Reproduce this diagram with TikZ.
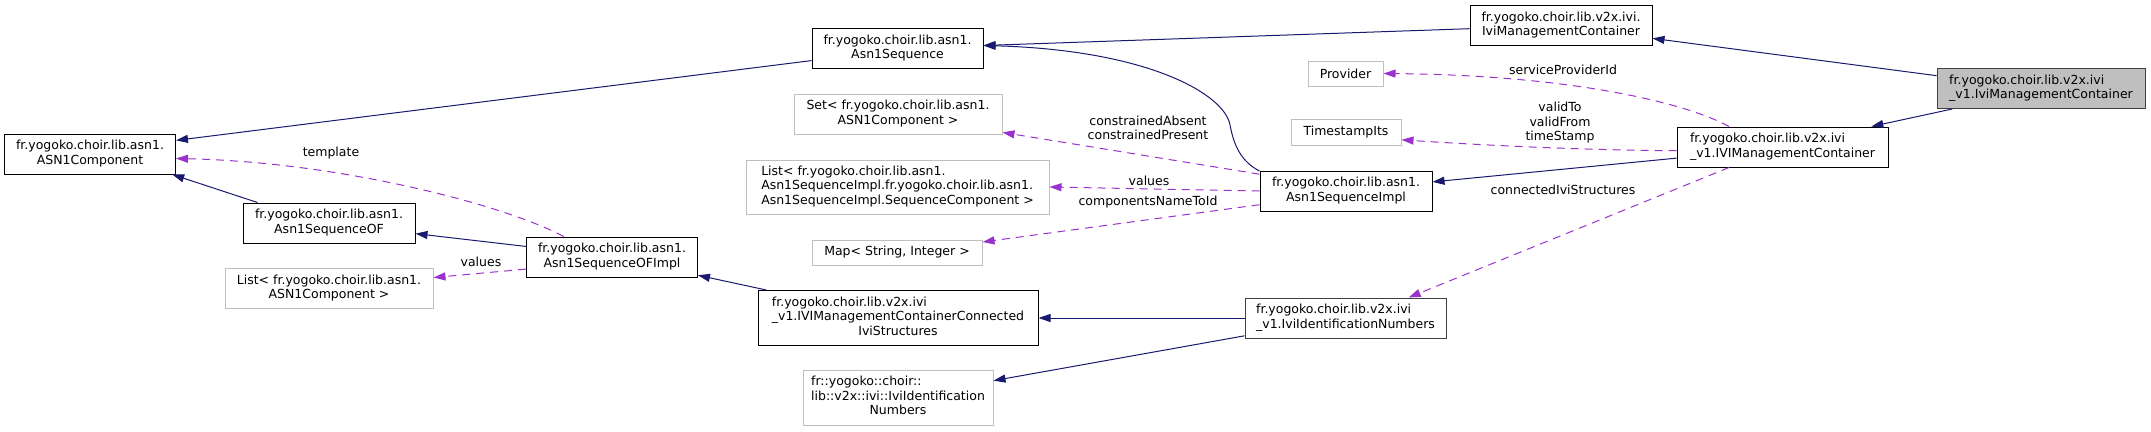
\documentclass[tikz,border=0pt]{standalone}
\usepackage{fontspec}
\setmainfont{DejaVu Sans}
\usetikzlibrary{arrows.meta}
\definecolor{InhBlue}{HTML}{191970}
\definecolor{UseOrchid}{HTML}{9A32CD}
\definecolor{ExtGrey}{HTML}{BFBFBF}
% class name: leading lines left, last line centred
\newcommand{\clsname}[2]{\begin{tabular}{@{}l@{}}#1\\\multicolumn{1}{@{}c@{}}{#2}\end{tabular}}

\begin{document}
\begin{tikzpicture}[x=1pt,y=-1pt,
    every node/.style={font=\fontsize{12.5}{14.5}\selectfont},
    cls/.style={draw=black,fill=white,line width=1pt,inner sep=0pt,minimum height=40pt},
    ext/.style={cls,draw=ExtGrey},
    inh/.style={draw=InhBlue,line width=1pt,-{Triangle[length=12pt,width=8pt]}},
    use/.style={draw=UseOrchid,line width=1pt,dash pattern=on 8pt off 6pt,-{Triangle[length=12pt,width=8pt]}},
    lbl/.style={inner sep=0pt,align=center}]
  \useasboundingbox (0,0) rectangle (2151,431);

  % asn1 classes
  \node[cls,minimum width=171pt] (comp) at (90,154) {\clsname{fr.yogoko.choir.lib.asn1.}{ASN1Component}};
  \node[cls,minimum width=172pt] (seqof) at (329,223) {\clsname{fr.yogoko.choir.lib.asn1.}{Asn1SequenceOF}};
  \node[cls,minimum width=171pt] (seqofimpl) at (612,257) {\clsname{fr.yogoko.choir.lib.asn1.}{Asn1SequenceOFImpl}};
  \node[ext,minimum width=208pt] (lista) at (329,288.5) {\clsname{List< fr.yogoko.choir.lib.asn1.}{ASN1Component >}};
  \node[cls,minimum width=171pt] (seq) at (897.5,48.5) {\clsname{fr.yogoko.choir.lib.asn1.}{Asn1Sequence}};
  \node[ext,minimum width=208pt] (setc) at (898,114) {\clsname{Set< fr.yogoko.choir.lib.asn1.}{ASN1Component >}};
  \node[ext,minimum width=303pt,minimum height=54pt] (listseq) at (897.5,187) {\clsname{List< fr.yogoko.choir.lib.asn1.\\Asn1SequenceImpl.fr.yogoko.choir.lib.asn1.}{Asn1SequenceImpl.SequenceComponent >}};
  \node[ext,minimum width=170pt,minimum height=25pt] (mapsi) at (897,252.5) {Map< String, Integer >};
  \node[cls,minimum width=280pt,minimum height=55pt] (connected) at (898,318) {\clsname{fr.yogoko.choir.lib.v2x.ivi\\\_v1.IVIManagementContainerConnected}{IviStructures}};
  \node[ext,minimum width=190pt,minimum height=55pt] (frivi) at (898,397.5) {\clsname{fr::yogoko::choir::\\lib::v2x::ivi::IviIdentification}{Numbers}};
  \node[cls,minimum width=172pt] (seqimpl) at (1346,191) {\clsname{fr.yogoko.choir.lib.asn1.}{Asn1SequenceImpl}};

  % v2x classes
  \node[cls,draw=black!75,minimum width=201pt] (ivinum) at (1345.5,318) {\clsname{fr.yogoko.choir.lib.v2x.ivi}{\_v1.IviIdentificationNumbers}};
  \node[ext,minimum width=75pt,minimum height=25pt] (provider) at (1345.5,73.5) {Provider};
  \node[ext,minimum width=110pt,minimum height=26pt] (tsits) at (1346,132) {TimestampIts};
  \node[cls,minimum width=182pt] (ivimc) at (1561,25.5) {\clsname{fr.yogoko.choir.lib.v2x.ivi.}{IviManagementContainer}};
  \node[cls,minimum width=211pt] (v1mc) at (1782.5,147) {\clsname{fr.yogoko.choir.lib.v2x.ivi}{\_v1.IVIManagementContainer}};
  \node[cls,draw=black!75,fill=ExtGrey,minimum width=208pt] (main) at (2041,88.5) {\clsname{fr.yogoko.choir.lib.v2x.ivi}{\_v1.IviManagementContainer}};

  % inheritance
  \draw[inh] (main.173) -- (ivimc.-8);
  \draw[inh] (main.193) -- (v1mc.13);
  \draw[inh] (ivimc.182) -- (seq.2);
  \draw[inh] (seqimpl.167) .. controls (1238,160) and (1233,140) .. (1230,125)
    .. controls (1225,95) and (1150,50) .. (seq.2);
  \draw[inh] (v1mc.186) -- (seqimpl.6);
  \draw[inh] (seq.188) -- (comp.9);
  \draw[inh] (seqof.164) -- (comp.-14);
  \draw[inh] (seqofimpl.173) -- (seqof.-7);
  \draw[inh] (connected.168) -- (seqofimpl.-12);
  \draw[inh] (ivinum.west) -- (connected.east);
  \draw[inh] (ivinum.190) -- (frivi.10);

  % usage
  \draw[use] (v1mc.159) .. controls (1680,100) and (1560,75) .. (provider.east);
  \draw[use] (v1mc.182) .. controls (1560,150) and (1450,143) .. (tsits.-8);
  \draw[use] (v1mc.201) -- (ivinum.18);
  \draw[use] (seqimpl.169) -- (setc.-10);
  \draw[use] (seqimpl.west) -- (listseq.east);
  \draw[use] (seqimpl.189) -- (mapsi.7);
  \draw[use] (seqofimpl.157) .. controls (505,205) and (340,162) .. (comp.-3);
  \draw[use] (seqofimpl.188) -- (lista.6);

  % labels
  \node[lbl] (lspid) at (1563,70) {serviceProviderId};
  \node[lbl] (ltime) at (1560,123) {validTo\\validFrom\\timeStamp};
  \node[lbl] (lconn) at (1563,190) {connectedIviStructures};
  \node[lbl] (lcons) at (1148,128) {constrainedAbsent\\constrainedPresent};
  \node[lbl] (lvals) at (1149,181) {values};
  \node[lbl] (lcnti) at (1148,202) {componentsNameToId};
  \node[lbl] (ltmpl) at (331,153) {template};
  \node[lbl] (lvalo) at (481,262) {values};
\end{tikzpicture}
\end{document}
